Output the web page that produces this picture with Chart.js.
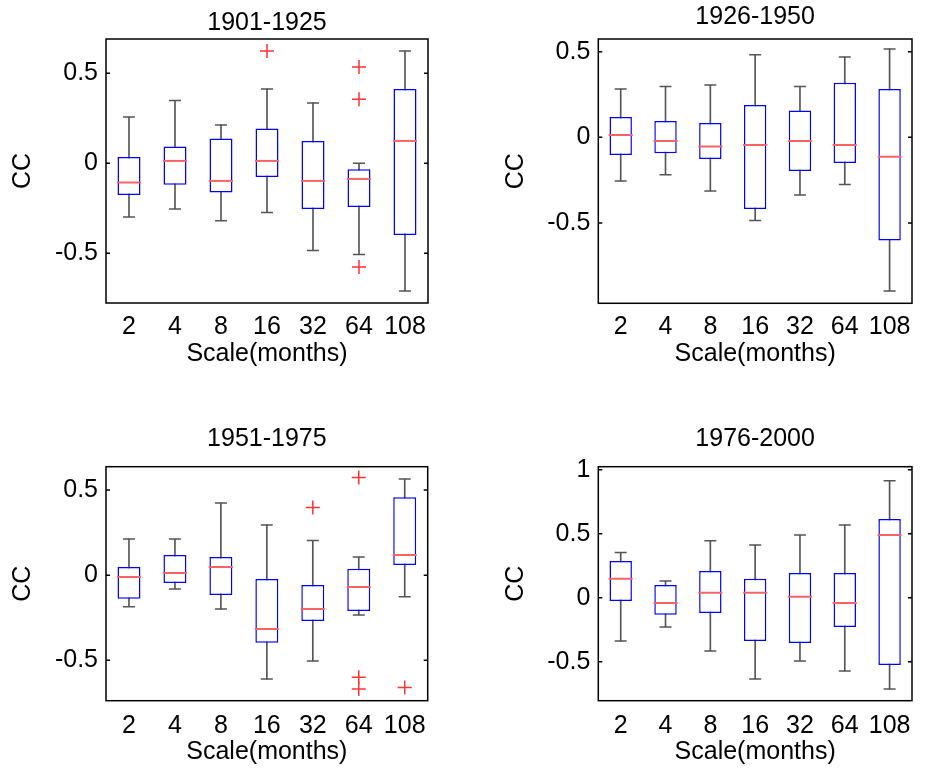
<!DOCTYPE html>
<html>
<head>
<meta charset="utf-8">
<script src="https://cdn.jsdelivr.net/npm/chart.js@4.4.0/dist/chart.umd.min.js"></script>
<style>
  html, body { margin: 0; padding: 0; background: #fff; }
  body { position: relative; width: 926px; height: 771px; overflow: hidden; }
  canvas { position: absolute; }
</style>
</head>
<body>
<canvas id="c1" width="463" height="385" style="left:0;top:0"></canvas>
<canvas id="c2" width="463" height="385" style="left:463px;top:0"></canvas>
<canvas id="c3" width="463" height="386" style="left:0;top:385px"></canvas>
<canvas id="c4" width="463" height="386" style="left:463px;top:385px"></canvas>
<script>
const scales = ["2", "4", "8", "16", "32", "64", "108"];

// 1901-1925
const low1 = [-0.298, -0.254, -0.319, -0.274, -0.485, -0.507, -0.709];
const q1_1 = [-0.176, -0.119, -0.163, -0.076, -0.254, -0.243, -0.398];
const med1 = [-0.107, 0.013, -0.098, 0.013, -0.098, -0.087, 0.124];
const q3_1 = [0.035, 0.093, 0.137, 0.193, 0.124, -0.033, 0.413];
const high1 = [0.257, 0.348, 0.213, 0.413, 0.335, 0.0, 0.624];
const out1 = [{ x: "16", y: 0.624 }, { x: "64", y: 0.535 }, { x: "64", y: 0.356 }, { x: "64", y: -0.576 }];

// 1926-1950
const low2 = [-0.255, -0.218, -0.313, -0.486, -0.337, -0.276, -0.897];
const q1_2 = [-0.103, -0.093, -0.126, -0.418, -0.196, -0.150, -0.603];
const med2 = [0.014, -0.021, -0.054, -0.045, -0.021, -0.045, -0.113];
const q3_2 = [0.119, 0.095, 0.084, 0.189, 0.156, 0.319, 0.282];
const high2 = [0.282, 0.296, 0.305, 0.482, 0.296, 0.469, 0.516];
const out2 = [];

// 1951-1975
const low3 = [-0.185, -0.081, -0.199, -0.610, -0.504, -0.234, -0.126];
const q1_3 = [-0.138, -0.046, -0.116, -0.396, -0.269, -0.210, 0.060];
const med3 = [-0.011, 0.013, 0.048, -0.316, -0.199, -0.069, 0.118];
const q3_3 = [0.048, 0.118, 0.107, -0.023, -0.058, 0.038, 0.457];
const high3 = [0.212, 0.212, 0.424, 0.295, 0.203, 0.107, 0.565];
const out3 = [{ x: "32", y: 0.398 }, { x: "64", y: 0.574 }, { x: "64", y: -0.600 }, { x: "64", y: -0.668 }, { x: "108", y: -0.659 }];

// 1976-2000
const low4 = [-0.339, -0.229, -0.417, -0.635, -0.495, -0.573, -0.714];
const q1_4 = [-0.026, -0.133, -0.120, -0.339, -0.354, -0.229, -0.526];
const med4 = [0.148, -0.042, 0.039, 0.039, 0.008, -0.042, 0.490];
const q3_4 = [0.286, 0.099, 0.208, 0.148, 0.193, 0.193, 0.615];
const high4 = [0.352, 0.130, 0.445, 0.411, 0.490, 0.568, 0.914];
const out4 = [];

const yTicks1 = [-0.5, 0, 0.5];
const yTicks4 = [-0.5, 0, 0.5, 1];

const FS = 25;
const HALF = FS * 1.2 / 2;

Chart.defaults.font.family = "'Liberation Sans', Arial, sans-serif";
Chart.defaults.font.size = FS;
Chart.defaults.color = "#000";

// box frame plus inward ticks on left and right, like matlab axes
const framePlugin = {
  id: "frame",
  afterDatasetsDraw(chart) {
    const { ctx, chartArea: a } = chart;
    const y = chart.scales.y;
    ctx.save();
    ctx.strokeStyle = "#000";
    ctx.lineWidth = 1.5;
    ctx.strokeRect(a.left, a.top, a.right - a.left, a.bottom - a.top);
    ctx.beginPath();
    y.ticks.forEach((t) => {
      const py = y.getPixelForValue(t.value);
      ctx.moveTo(a.left, py);
      ctx.lineTo(a.left + 4, py);
      ctx.moveTo(a.right, py);
      ctx.lineTo(a.right - 4, py);
    });
    ctx.stroke();
    ctx.restore();
  },
};

function makeBoxplot(id, title, d, box) {
  const el = document.getElementById(id);
  const whiskerColor = "rgb(85,85,85)";
  return new Chart(el, {
    type: "bar",
    data: {
      labels: scales,
      datasets: [
        {
          type: "line",
          data: d.med,
          showLine: false,
          pointStyle: "line",
          pointRadius: 12,
          pointBorderColor: "rgb(245,100,100)",
          pointBorderWidth: 2,
          order: 0,
        },
        {
          type: "line",
          data: d.high,
          showLine: false,
          pointStyle: "line",
          pointRadius: 6,
          pointBorderColor: whiskerColor,
          pointBorderWidth: 1.5,
          order: 0,
        },
        {
          type: "line",
          data: d.low,
          showLine: false,
          pointStyle: "line",
          pointRadius: 6,
          pointBorderColor: whiskerColor,
          pointBorderWidth: 1.5,
          order: 0,
        },
        {
          type: "line",
          data: d.out,
          showLine: false,
          pointStyle: "cross",
          pointRadius: 7,
          pointBorderColor: "rgb(255,50,50)",
          pointBorderWidth: 1.5,
          order: 0,
        },
        {
          data: d.q1.map((v, i) => [v, d.q3[i]]),
          backgroundColor: "#fff",
          borderColor: "#0000ff",
          borderWidth: 1.5,
          borderSkipped: false,
          barPercentage: 0.5,
          categoryPercentage: 1,
          grouped: false,
          order: 1,
        },
        {
          data: d.low.map((v, i) => [v, d.high[i]]),
          backgroundColor: whiskerColor,
          barThickness: 1,
          grouped: false,
          order: 2,
        },
      ],
    },
    options: {
      responsive: false,
      animation: false,
      events: [],
      layout: {
        padding: { left: 0, top: 0, right: el.width - box.right, bottom: el.height - box.bottom - 70 },
      },
      plugins: {
        legend: { display: false },
        tooltip: { enabled: false },
        title: {
          display: true,
          text: title,
          fullSize: false,
          font: { size: FS, weight: "normal" },
          padding: { top: box.titleY - HALF, bottom: box.top - box.titleY - HALF },
        },
      },
      scales: {
        x: {
          offset: true,
          grid: { display: false },
          border: { display: false },
          ticks: { padding: box.tickPad, autoSkip: false, maxRotation: 0 },
          title: {
            display: true,
            text: "Scale(months)",
            font: { size: FS },
            padding: { top: 0, bottom: 70 - 51 - HALF },
          },
          afterFit(s) {
            s.height = 70;
          },
        },
        y: {
          min: box.min,
          max: box.max,
          grid: { display: false, drawTicks: false },
          border: { display: false },
          ticks: { padding: 8, callback: (v) => String(v) },
          afterBuildTicks(s) {
            s.ticks = box.ticks.map((v) => ({ value: v }));
          },
          title: {
            display: true,
            text: "CC",
            font: { size: FS },
            padding: { top: box.ccX - HALF, bottom: 0 },
          },
          afterFit(s) {
            s.width = box.left;
          },
        },
      },
    },
    plugins: [framePlugin],
  });
}

makeBoxplot("c1", "1901-1925",
  { low: low1, q1: q1_1, med: med1, q3: q3_1, high: high1, out: out1 },
  { left: 106, top: 39, right: 428, bottom: 303, titleY: 23.5, ccX: 23, tickPad: 1, min: -0.776, max: 0.69, ticks: yTicks1 });

makeBoxplot("c2", "1926-1950",
  { low: low2, q1: q1_2, med: med2, q3: q3_2, high: high2, out: out2 },
  { left: 135.3, top: 39, right: 459.3, bottom: 303.3, titleY: 17.5, ccX: 53, tickPad: 1, min: -0.969, max: 0.574, ticks: yTicks1 });

makeBoxplot("c3", "1951-1975",
  { low: low3, q1: q1_3, med: med3, q3: q3_3, high: high3, out: out3 },
  { left: 106, top: 81.7, right: 427.7, bottom: 315.7, titleY: 54, ccX: 23, tickPad: 2, min: -0.737, max: 0.637, ticks: yTicks1 });

makeBoxplot("c4", "1976-2000",
  { low: low4, q1: q1_4, med: med4, q3: q3_4, high: high4, out: out4 },
  { left: 135.3, top: 81.7, right: 459.3, bottom: 315.7, titleY: 54, ccX: 53, tickPad: 2, min: -0.805, max: 1.023, ticks: yTicks4 });
</script>
</body>
</html>
